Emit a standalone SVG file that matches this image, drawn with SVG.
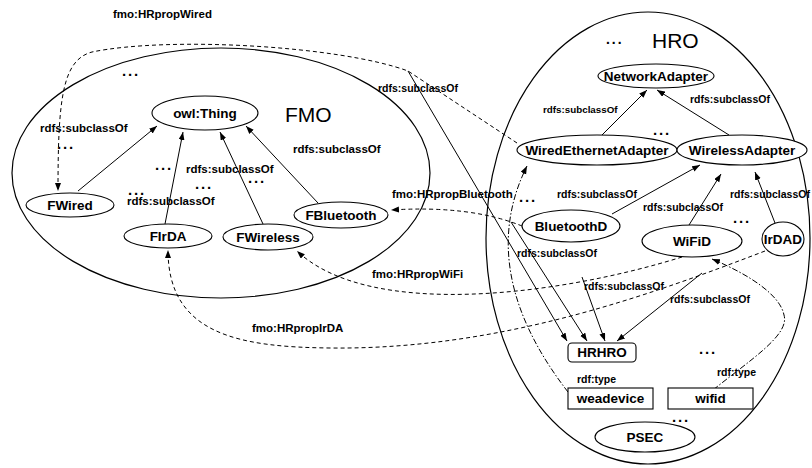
<svg xmlns="http://www.w3.org/2000/svg" width="812" height="468" viewBox="0 0 812 468">
  <defs>
    <marker id="arrow" markerUnits="userSpaceOnUse" markerWidth="9" markerHeight="7" refX="8" refY="3" orient="auto">
      <path d="M0,0 L8,3 L0,6 z" fill="#000"/>
    </marker>
    <style>
      .frame { fill: none; stroke: #000; stroke-width: 1.2; }
      .node { fill: #fff; stroke: #000; stroke-width: 1.1; }
      .nlabel { font-family: "Liberation Sans", Arial, sans-serif; font-size: 13.5px; font-weight: bold; text-anchor: middle; fill: #000; }
      .title { font-family: "Liberation Sans", Arial, sans-serif; font-size: 21px; fill: #000; }
      .elabel { font-family: "Liberation Sans", Arial, sans-serif; font-size: 10.5px; font-weight: bold; fill: #000; }
      .big { font-size: 11.5px; }
      .plabel { font-family: "Liberation Sans", Arial, sans-serif; font-size: 11.5px; font-weight: bold; fill: #000; }
      .dots { font-family: "Liberation Sans", Arial, sans-serif; font-size: 15px; font-weight: bold; letter-spacing: 1.8px; text-anchor: middle; fill: #000; }
      .sub { fill: none; stroke: #000; stroke-width: 1; marker-end: url(#arrow); }
      .prop { fill: none; stroke: #000; stroke-width: 1; stroke-dasharray: 4 3; marker-end: url(#arrow); }
      .type { fill: none; stroke: #000; stroke-width: 1; stroke-dasharray: 6 2 1.5 2; marker-end: url(#arrow); }
    </style>
  </defs>

  <!-- ontology containers -->
  <g id="FMO">
    <ellipse class="frame" cx="221" cy="173" rx="209" ry="125"/>
    <text class="title" x="285" y="122">FMO</text>
  </g>
  <g id="HRO">
    <ellipse class="frame" cx="648" cy="238" rx="162" ry="226"/>
    <text class="title" x="652" y="48">HRO</text>
    <text class="title" x="605" y="44">...</text>
  </g>

  <!-- connectors -->
  <g id="connectors">
    <!-- FMO hierarchy -->
    <line class="sub" x1="78" y1="191" x2="157" y2="126"/>
    <line class="sub" x1="165" y1="224" x2="183" y2="132"/>
    <line class="sub" x1="263" y1="224" x2="220" y2="132"/>
    <line class="sub" x1="318" y1="203" x2="246" y2="126"/>
    <!-- HRO hierarchy -->
    <line class="sub" x1="602" y1="135" x2="647" y2="90"/>
    <line class="sub" x1="729" y1="135" x2="657" y2="90"/>
    <line class="sub" x1="612" y1="214" x2="700" y2="165"/>
    <line class="sub" x1="689" y1="225" x2="721" y2="174"/>
    <line class="sub" x1="775" y1="223" x2="755" y2="172"/>
    <!-- into HRHRO -->
    <line class="sub" x1="408" y1="71" x2="567" y2="341"/>
    <line class="sub" x1="511" y1="222" x2="587" y2="341"/>
    <line class="sub" x1="582" y1="277" x2="605" y2="341"/>
    <line class="sub" x1="702" y1="273" x2="617" y2="341"/>
    <!-- fmo:HRprop* links -->
    <path class="prop" d="M517,143 L408,71 C340,46 170,36 92,52 C62,60 58,100 58,191"/>
    <path class="prop" d="M522,226 Q470,205 391,210"/>
    <path class="prop" d="M682,257 C560,295 370,320 297,251"/>
    <path class="prop" d="M765,251 C650,295 500,350 330,348 C240,347 168,335 168,250"/>
    <!-- rdf:type links -->
    <path class="type" d="M568,392 C520,330 485,250 527,166"/>
    <path class="type" d="M713,390 C750,360 790,335 784,315 C780,295 750,275 712,259"/>
  </g>

  <!-- edge labels -->
  <g id="labels">
    <text class="plabel" x="113" y="18">fmo:HRpropWired</text>
    <text class="plabel" x="392" y="198">fmo:HRpropBluetooth</text>
    <text class="plabel" x="372" y="278">fmo:HRpropWiFi</text>
    <text class="plabel" x="252" y="332">fmo:HRpropIrDA</text>

    <text class="elabel big" x="40" y="132">rdfs:subclassOf</text>
    <text class="elabel big" x="186" y="173">rdfs:subclassOf</text>
    <text class="elabel big" x="127" y="205">rdfs:subclassOf</text>
    <text class="elabel big" x="293" y="153">rdfs:subclassOf</text>
    <text class="elabel" x="378" y="92">rdfs:subclassOf</text>
    <text class="elabel" x="543" y="113" style="font-size:9.8px">rdfs:subclassOf</text>
    <text class="elabel" x="690" y="103">rdfs:subclassOf</text>
    <text class="elabel" x="557" y="198">rdfs:subclassOf</text>
    <text class="elabel" x="643" y="211">rdfs:subclassOf</text>
    <text class="elabel" x="730" y="198">rdfs:subclassOf</text>
    <text class="elabel" x="517" y="257">rdfs:subclassOf</text>
    <text class="elabel" x="584" y="290">rdfs:subclassOf</text>
    <text class="elabel" x="670" y="303">rdfs:subclassOf</text>
    <text class="elabel" x="577" y="383">rdf:type</text>
    <text class="elabel" x="717" y="376">rdf:type</text>

    <text class="dots" x="131" y="76">...</text>
    <text class="dots" x="66" y="149">...</text>
    <text class="dots" x="164" y="170">...</text>
    <text class="dots" x="204" y="189">...</text>
    <text class="dots" x="137" y="195">...</text>
    <text class="dots" x="257" y="183">...</text>
    <text class="dots" x="662" y="135">...</text>
    <text class="dots" x="528" y="202">...</text>
    <text class="dots" x="742" y="223">...</text>
    <text class="dots" x="708" y="354">...</text>
    <text class="dots" x="681" y="422">...</text>
  </g>

  <!-- FMO classes -->
  <g id="owlThing">
    <ellipse class="node" cx="205" cy="113" rx="53" ry="17"/>
    <text class="nlabel" x="205" y="118">owl:Thing</text>
  </g>
  <g id="FWired">
    <ellipse class="node" cx="70" cy="205" rx="44" ry="12"/>
    <text class="nlabel" x="70" y="210">FWired</text>
  </g>
  <g id="FIrDA">
    <ellipse class="node" cx="168" cy="236" rx="44" ry="12"/>
    <text class="nlabel" x="168" y="241">FIrDA</text>
  </g>
  <g id="FWireless">
    <ellipse class="node" cx="268" cy="237" rx="45" ry="13"/>
    <text class="nlabel" x="268" y="242">FWireless</text>
  </g>
  <g id="FBluetooth">
    <ellipse class="node" cx="341" cy="215" rx="47" ry="13"/>
    <text class="nlabel" x="341" y="220">FBluetooth</text>
  </g>

  <!-- HRO classes -->
  <g id="NetworkAdapter">
    <ellipse class="node" cx="656" cy="76" rx="58" ry="12"/>
    <text class="nlabel" x="656" y="81">NetworkAdapter</text>
  </g>
  <g id="WiredEthernetAdapter">
    <ellipse class="node" cx="597" cy="150" rx="80" ry="15"/>
    <text class="nlabel" x="597" y="155">WiredEthernetAdapter</text>
  </g>
  <g id="WirelessAdapter">
    <ellipse class="node" cx="742" cy="150" rx="65" ry="15"/>
    <text class="nlabel" x="742" y="155">WirelessAdapter</text>
  </g>
  <g id="BluetoothD">
    <ellipse class="node" cx="571" cy="226" rx="49" ry="16"/>
    <text class="nlabel" x="571" y="231">BluetoothD</text>
  </g>
  <g id="WiFiD">
    <ellipse class="node" cx="692" cy="241" rx="50" ry="16"/>
    <text class="nlabel" x="692" y="246">WiFiD</text>
  </g>
  <g id="IrDAD">
    <ellipse class="node" cx="783" cy="239" rx="21" ry="17"/>
    <text class="nlabel" x="783" y="244">IrDAD</text>
  </g>
  <g id="HRHRO">
    <rect class="node" x="568" y="343" width="68" height="19" rx="4"/>
    <text class="nlabel" x="602" y="357">HRHRO</text>
  </g>
  <g id="weadevice">
    <rect class="node" x="568" y="388" width="85" height="21"/>
    <text class="nlabel" x="610.5" y="403">weadevice</text>
  </g>
  <g id="wifid">
    <rect class="node" x="668" y="388" width="85" height="21"/>
    <text class="nlabel" x="710.5" y="403">wifid</text>
  </g>
  <g id="PSEC">
    <ellipse class="node" cx="645" cy="437" rx="50" ry="15"/>
    <text class="nlabel" x="645" y="442">PSEC</text>
  </g>
</svg>
